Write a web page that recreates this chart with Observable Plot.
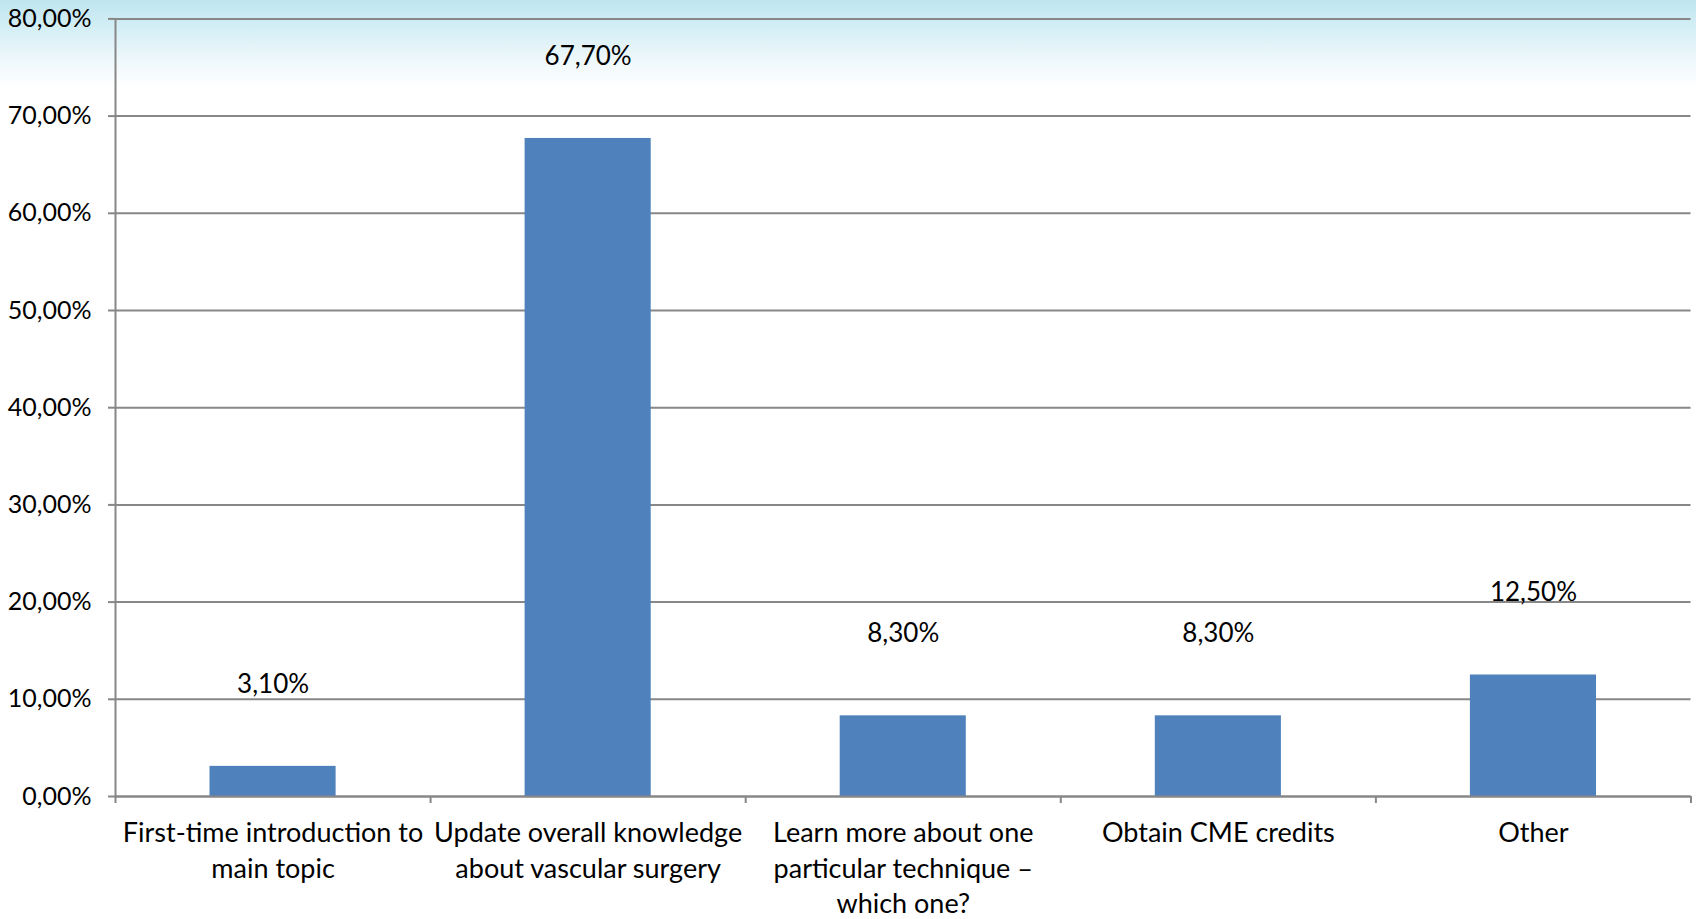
<!DOCTYPE html>
<html>
<head>
<meta charset="utf-8">
<script src="https://cdn.jsdelivr.net/npm/d3@7"></script>
<script src="https://cdn.jsdelivr.net/npm/@observablehq/plot@0.6"></script>
<style>
  html, body { margin: 0; padding: 0; }
  body {
    width: 1696px; height: 919px; overflow: hidden;
    background: linear-gradient(to bottom, #bfe5ef 0px, #d6eff6 30px, #eef8fb 60px, #ffffff 88px);
  }
</style>
</head>
<body>
<div id="chart"></div>
<script>
const categories = [
  "First-time introduction to\nmain topic",
  "Update overall knowledge\nabout vascular surgery",
  "Learn more about one\nparticular technique –\nwhich one?",
  "Obtain CME credits",
  "Other"
];
const values = [3.1, 67.7, 8.3, 8.3, 12.5];
const yTicks = [0, 10, 20, 30, 40, 50, 60, 70, 80];

const data = categories.map((c, i) => ({i, category: c, value: values[i]}));
const pct = v => d3.format(".2f")(v).replace(".", ",") + "%";
const gray = "#878787";

const chart = Plot.plot({
  width: 1696,
  height: 919,
  marginTop: 18.4,
  marginBottom: 123,
  marginLeft: 115,
  marginRight: 5.5,
  style: {background: "none", fontFamily: "Lato, 'Open Sans', sans-serif", fontSize: "25px", color: "black"},
  x: {type: "linear", domain: [0, categories.length]},
  y: {domain: [0, 80]},
  marks: [
    Plot.gridY(yTicks, {stroke: gray, strokeOpacity: 1, strokeWidth: 2}),
    Plot.rectY(data, {x1: d => d.i, x2: d => d.i + 1, y: "value", insetLeft: 94.5, insetRight: 94.5, fill: "#4f81bd"}),
    Plot.ruleY([0], {stroke: gray, strokeWidth: 2}),
    Plot.ruleX([0], {stroke: gray, strokeWidth: 2}),
    Plot.axisY({ticks: yTicks, tickSize: 7, tickPadding: 17, stroke: gray, strokeWidth: 2, strokeOpacity: 1, tickFormat: pct, fill: "black", fontSize: 25, label: null}),
    Plot.axisX({ticks: d3.range(categories.length + 1), tickSize: 7, stroke: gray, strokeWidth: 2, strokeOpacity: 1, tickFormat: () => "", label: null}),
    Plot.axisX({ticks: data.map(d => d.i + 0.5), tickSize: 0, tickPadding: 21, lineHeight: 1.3, fontSize: 27, fill: "black", tickFormat: v => categories[Math.floor(v)], label: null}),
    Plot.text(data, {x: d => d.i + 0.5, y: "value", text: d => pct(d.value), dy: -82, fontSize: 26, fill: "black"})
  ]
});
document.getElementById("chart").appendChild(chart);
</script>
</body>
</html>
